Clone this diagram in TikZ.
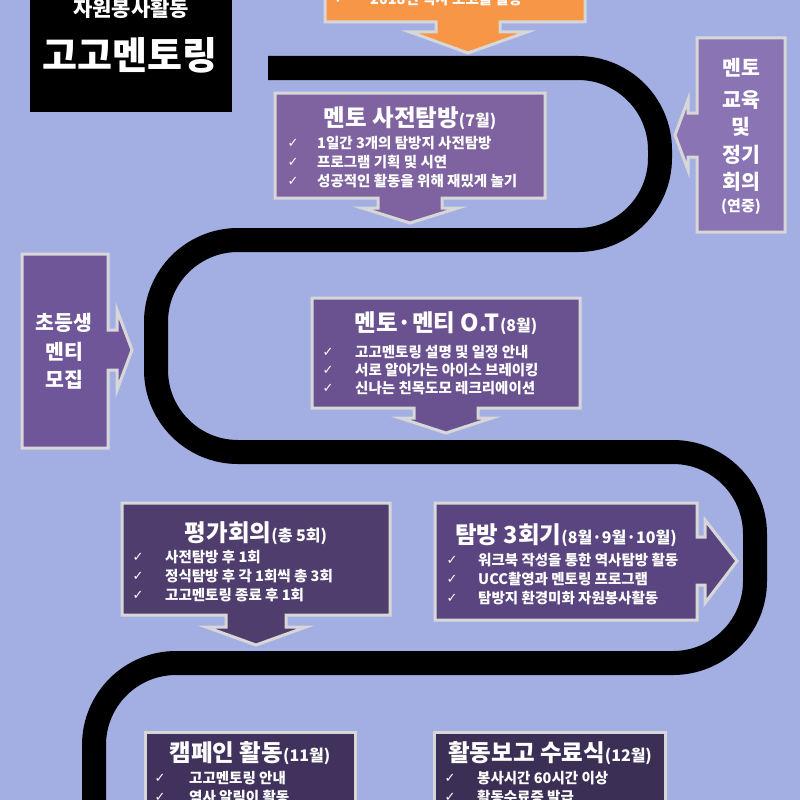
\documentclass[tikz,border=0pt]{standalone}
\usepackage{fontspec}
\setmainfont{Noto Sans CJK KR}
\newfontfamily\symfont{DejaVu Sans}
\definecolor{bgblue}{RGB}{163,175,227}
\definecolor{orng}{RGB}{247,150,70}
\definecolor{pnledge}{RGB}{215,215,215}
\definecolor{pnlA}{RGB}{126,99,160}
\definecolor{pnlB}{RGB}{106,81,144}
\definecolor{pnlC}{RGB}{79,61,110}
\definecolor{pnlD}{RGB}{90,69,128}
\definecolor{pnlE}{RGB}{64,50,92}
\definecolor{pnlF}{RGB}{60,47,86}
\definecolor{pnlR}{RGB}{139,116,180}
\definecolor{pnlL}{RGB}{110,86,152}
\tikzset{
  pnl/.style={draw=pnledge, line width=3pt, line join=miter},
  road/.style={line width=24pt, rounded corners=82pt, black},
  ttl/.style={text=white, inner sep=0pt, font=\bfseries\fontsize{23.5}{25}\selectfont},
  itm/.style={text=white, inner sep=0pt, anchor=west, font=\bfseries\fontsize{14.5}{16}\selectfont},
  chk/.style={text=white, inner sep=0pt, font=\symfont\fontsize{13}{14}\selectfont},
  sidetxt/.style={text=white, inner sep=0pt, font=\bfseries\fontsize{20.5}{22}\selectfont},
}
\newcommand{\mon}[1]{{\fontsize{16}{17}\selectfont(#1)}}

\begin{document}
\begin{tikzpicture}[x=1pt, y=-1pt]
  \clip (0,0) rectangle (800,800);
  \fill[bgblue] (0,0) rectangle (800,800);
  % --- title block
  \fill[black] (30,-5) rectangle (232,112);
  \node[text=white, font=\bfseries\fontsize{21}{22}\selectfont] (sub) at (131,9) {자원봉사활동};
  \node[text=white, font=\bfseries\fontsize{38}{40}\selectfont] (title) at (130,55) {고고멘토링};
  % --- the winding road
  \draw[road] (268,68) -- (660,68) -- (660,240) -- (156,240) -- (156,452)
    -- (755,452) -- (755,663) -- (94,663) -- (94,840);
  % --- orange banner
  \fill[orng, pnl] (325,-10) -- (585,-10) -- (585,22) -- (500,22) -- (500,32) -- (527,32)
    -- (468,53) -- (410,32) -- (436,32) -- (436,22) -- (325,22) -- cycle;
  \node[chk] (O0) at (340,-1) {✓};
  \node[itm] (O1) at (370,-1) {2018년 역사 보고를 활용};
  % --- panels
  \fill[pnlA, pnl] (275,93) -- (545,93) -- (545,198) -- (442,198) -- (442,208) -- (458,208)
    -- (410,223) -- (362,208) -- (378,208) -- (378,198) -- (275,198) -- cycle;
  \fill[pnlB, pnl] (312,298) -- (580,298) -- (580,408) -- (478,408) -- (478,418) -- (492,418)
    -- (446,433) -- (400,418) -- (414,418) -- (414,408) -- (312,408) -- cycle;
  \fill[pnlC, pnl] (122,503) -- (390,503) -- (390,615) -- (286,615) -- (286,627) -- (306,627)
    -- (256,645) -- (206,627) -- (226,627) -- (226,615) -- (122,615) -- cycle;
  \fill[pnlD, pnl] (435,503) -- (697,503) -- (697,537) -- (705,537) -- (705,520) -- (737,561)
    -- (705,603) -- (705,585) -- (697,585) -- (697,620) -- (435,620) -- cycle;
  \fill[pnlE, pnl] (145,732) rectangle (355,840);
  \fill[pnlF, pnl] (434,732) rectangle (665,840);
  \fill[pnlR, pnl] (785,38) -- (785,232) -- (697,232) -- (697,157) -- (688,157) -- (688,170)
    -- (675,135) -- (688,100) -- (688,113) -- (697,113) -- (697,38) -- cycle;
  \fill[pnlL, pnl] (22,254) -- (108,254) -- (108,330) -- (117,330) -- (117,310) -- (132,350)
    -- (117,390) -- (117,370) -- (108,370) -- (108,448) -- (22,448) -- cycle;
  % --- panel texts
  \node[ttl] (T1) at (410,118) {멘토 사전탐방\mon{7월}};
  \foreach \t [count=\n] in {1일간 3개의 탐방지 사전탐방, 프로그램 기획 및 시연, 성공적인 활동을 위해 재밌게 놀기}{
    \node[chk] (C1\n) at (293,{124+19*\n}) {✓};
    \node[itm] (I1\n) at (317,{124+19*\n}) {\t};
  }
  \node[ttl] (T2) at (446,323) {멘토·멘티 O.T\mon{8월}};
  \foreach \t [count=\n] in {고고멘토링 설명 및 일정 안내, 서로 알아가는 아이스 브레이킹, 신나는 친목도모 레크리에이션}{
    \node[chk] (C2\n) at (328,{334+18*\n}) {✓};
    \node[itm] (I2\n) at (355,{334+18*\n}) {\t};
  }
  \node[ttl] (T3) at (256,533) {평가회의\mon{총 5회}};
  \foreach \t [count=\n] in {사전탐방 후 1회, 정식탐방 후 각 1회씩 총 3회, 고고멘토링 종료 후 1회}{
    \node[chk] (C3\n) at (138,{538+19*\n}) {✓};
    \node[itm] (I3\n) at (165,{538+19*\n}) {\t};
  }
  \node[ttl] (T4) at (566,535) {탐방 3회기\mon{8월·9월·10월}};
  \foreach \t [count=\n] in {워크북 작성을 통한 역사탐방 활동, UCC촬영과 멘토링 프로그램, 탐방지 환경미화 자원봉사활동}{
    \node[chk] (C4\n) at (452,{541+19*\n}) {✓};
    \node[itm] (I4\n) at (478,{541+19*\n}) {\t};
  }
  \node[ttl] (T5) at (250,753) {캠페인 활동\mon{11월}};
  \foreach \t [count=\n] in {고고멘토링 안내, 역사 알림이 활동}{
    \node[chk] (C5\n) at (160,{759+19*\n}) {✓};
    \node[itm] (I5\n) at (189,{759+19*\n}) {\t};
  }
  \node[ttl] (T6) at (550,753) {활동보고 수료식\mon{12월}};
  \foreach \t [count=\n] in {봉사시간 60시간 이상, 활동수료증 발급}{
    \node[chk] (C6\n) at (450,{759+19*\n}) {✓};
    \node[itm] (I6\n) at (477,{759+19*\n}) {\t};
  }
  % --- side panels
  \foreach \t/\yy [count=\n] in {멘토/68, 교육/100, 및/127, 정기/155, 회의/182}
    \node[sidetxt] (R\n) at (741,\yy) {\t};
  \node[sidetxt, font=\bfseries\fontsize{15}{16}\selectfont] (R6) at (741,207) {(연중)};
  \foreach \t/\yy [count=\n] in {초등생/323, 멘티/352, 모집/380}
    \node[sidetxt] (L\n) at (64,\yy) {\t};
\end{tikzpicture}
\end{document}
